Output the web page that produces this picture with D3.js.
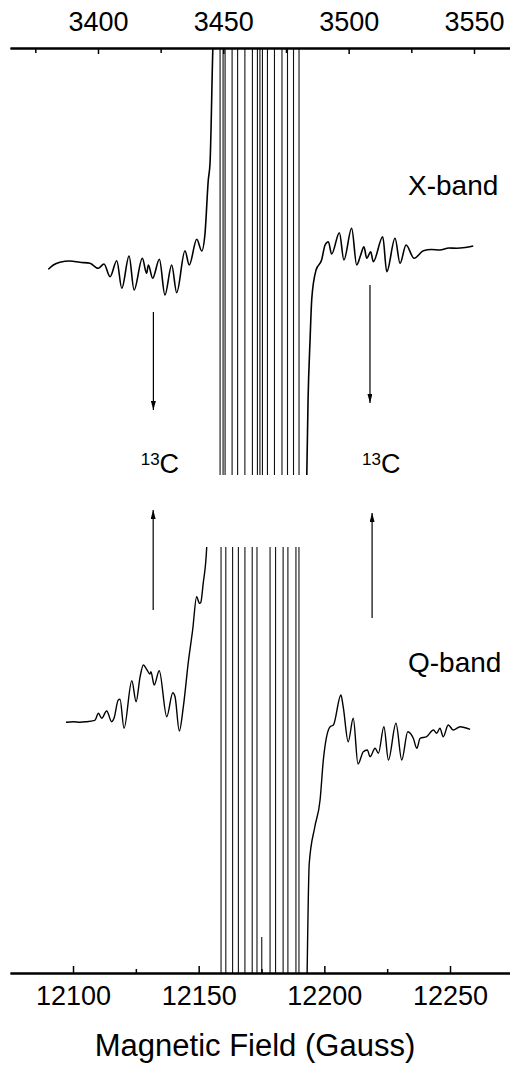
<!DOCTYPE html>
<html><head><meta charset="utf-8">
<script src="https://cdn.jsdelivr.net/npm/d3@7"></script>
<style>
body{margin:0;background:#fff}
svg{display:block}
text{font-family:"Liberation Sans",Arial,Helvetica,sans-serif;fill:#000}
</style>
</head><body>
<svg id="c" width="510" height="1067"></svg>
<script>
// ---------- tick values ----------
const topMajorTicks = [3400, 3450, 3500, 3550];
const topMinorTicks = [3375, 3425, 3475, 3525];
const bottomMajorTicks = [12100, 12150, 12200, 12250];
const bottomMinorTicks = [12125, 12175, 12225];

// ---------- X-band spectrum (field G, amplitude a.u.) ----------
const xLeftWing = [
  [3380.2,-4.3],[3382.2,0],[3384.8,2.7],[3388.8,4],[3392.8,2.7],[3396.8,1.7],
  [3400.1,-3.3],[3402.4,1],[3404.8,-11.7],[3407.5,4.3],[3409.5,-23.3],[3412.4,9],
  [3414.4,-25],[3417.7,6.7],[3419.4,-8.3],[3420.1,0],[3421.8,-13.3],[3424.5,5.7],
  [3426.7,-30],[3429.4,0],[3431.4,-27.7],[3434.7,14.3],[3436.4,0],[3439.4,25.7],
  [3441.4,14],[3442.7,31.7],[3444.0,85],[3444.7,102],[3445.8,215],[3446.1,240]
];
// clipped central hyperfine lines of the X-band spectrum (field G)
const xCentralLines = [3448.7,3449.9,3450.7,3453.5,3455.7,3458.6,3461.6,3463.6,
  3464.6,3465.6,3467.6,3470.4,3473.4,3475.6,3478.0,3480.2];
const xRightWing = [
  [3483.1,-240],[3483.8,-135],[3484.6,-75],[3485.3,-33.3],[3487.0,-5],[3489.2,5],
  [3490.6,20],[3491.9,23.3],[3493.2,11],[3496.3,32.3],[3498.1,5],[3501.2,36.7],
  [3503.2,0],[3504.8,10],[3506.1,18.3],[3507.2,6.7],[3508.8,13.3],[3509.8,3.3],
  [3513.6,28.3],[3515.2,-6.7],[3518.5,26.7],[3520.5,1.7],[3522.9,20],[3526.1,6.7],
  [3529.8,14.3],[3533.0,15.5],[3536.4,15],[3540.0,17],[3543.1,16.7],[3546.5,17.5],[3549.7,19]
];

// ---------- Q-band spectrum (field G, amplitude a.u.) ----------
const qLeftWing = [
  [12097.2,-0.3],[12100.1,0.3],[12102.8,-0.3],[12105.5,0.3],[12108.1,1.3],[12108.8,2],
  [12110.1,8.7],[12111.4,3.7],[12113.4,11],[12115.4,0.3],[12116.3,3.7],[12118.0,22],
  [12118.7,22.7],[12120.3,-6.3],[12123.4,41.3],[12125.1,20.3],[12126.7,45.3],[12128.0,57],
  [12129.3,52.7],[12130.6,48],[12131.0,50.3],[12132.3,37],[12134.3,51.3],[12137.3,5.3],
  [12139.7,29.3],[12140.6,25.3],[12142.3,-9],[12143.9,15.3],[12145.9,60.3],[12147.6,92],
  [12149.2,125.3],[12150.3,118.7],[12150.8,119.3],[12151.8,138.7],[12153.2,175],[12153.5,200]
];
const qCentralLines = [12158.9,12160.8,12163.5,12165.8,12168.4,12171.3,12173.2,
  12178.4,12180.6,12183.6,12185.5,12188.7,12189.9];
const qShortSpike = [12175.1, -215];
const qRightWing = [
  [12193.0,-280],[12194.0,-141.3],[12196.2,-105],[12198.3,-78],[12199.6,-38],[12202.3,-4.7],
  [12203.6,-3],[12206.6,27],[12207.5,15.3],[12209.5,-19.7],[12211.5,3.7],[12213.4,-42],
  [12215.5,-29.7],[12217.1,-28],[12218.2,-34.7],[12220.2,-26.3],[12221.5,-31.3],[12223.7,-4.7],
  [12225.5,-38],[12228.5,-1.3],[12230.8,-38],[12233.2,-9.7],[12235.4,-16.3],[12236.8,-26.3],
  [12238.1,-16.3],[12240.7,-14.7],[12243.4,-8],[12244.7,-11.3],[12246.0,-6.3],[12247.3,-14.7],
  [12249.3,-3],[12251.3,-8],[12254.0,-4.7],[12258.0,-7.3]
];

// 13C annotation positions (X-band field) and arrows (field, amp from, amp to)
const c13Labels = [3424.7, 3513.0];
const xArrows = [[3422.1,-47,-145],[3508.5,-20,-138]];
const qArrows = [[12131.9,112,212],[12219.0,104,209]];

// ---------- layout ----------
const svg = d3.select("#c");
const W = 510;
const xTop = d3.scaleLinear().domain([3364.9, 3564.36]).range([10, W]);
const xBot = d3.scaleLinear().domain([12074.93, 12273.87]).range([10, W]);
const yX = d3.scaleLinear().domain([-210, 217]).range([475, 48]);
const yQ = d3.scaleLinear().domain([-251, 175]).range([973, 547]);

const defs = svg.append("defs");
defs.append("clipPath").attr("id","clipX").append("rect")
  .attr("x",0).attr("y",yX.range()[1]).attr("width",W).attr("height",yX.range()[0]-yX.range()[1]);
defs.append("clipPath").attr("id","clipQ").append("rect")
  .attr("x",0).attr("y",yQ.range()[1]).attr("width",W).attr("height",yQ.range()[0]-yQ.range()[1]);
defs.append("marker").attr("id","ah").attr("viewBox","0 0 10 10").attr("refX",10).attr("refY",5)
  .attr("markerWidth",9).attr("markerHeight",5).attr("markerUnits","userSpaceOnUse")
  .attr("orient","auto").attr("preserveAspectRatio","none")
  .append("path").attr("d","M0,0L10,5L0,10Z").attr("fill","#000");

// ---------- X-band ----------
const gX = svg.append("g").attr("clip-path","url(#clipX)");
const lineX = d3.line().x(d=>xTop(d[0])).y(d=>yX(d[1])).curve(d3.curveMonotoneX);
[xLeftWing, xRightWing].forEach(w=>{
  gX.append("path").attr("d",lineX(w)).attr("fill","none").attr("stroke","#000")
    .attr("stroke-width",1.6).attr("stroke-linejoin","round");
});
gX.selectAll("line.c").data(xCentralLines).join("line")
  .attr("x1",d=>xTop(d)).attr("x2",d=>xTop(d))
  .attr("y1",yX(yX.domain()[1])).attr("y2",yX(yX.domain()[0]))
  .attr("stroke","#111").attr("stroke-width",1.1);

// ---------- Q-band ----------
const gQ = svg.append("g").attr("clip-path","url(#clipQ)");
const lineQ = d3.line().x(d=>xBot(d[0])).y(d=>yQ(d[1])).curve(d3.curveMonotoneX);
[qLeftWing, qRightWing].forEach(w=>{
  gQ.append("path").attr("d",lineQ(w)).attr("fill","none").attr("stroke","#000")
    .attr("stroke-width",1.4).attr("stroke-linejoin","round");
});
gQ.selectAll("line.c").data(qCentralLines).join("line")
  .attr("x1",d=>xBot(d)).attr("x2",d=>xBot(d))
  .attr("y1",yQ(yQ.domain()[1])).attr("y2",yQ(yQ.domain()[0]))
  .attr("stroke","#111").attr("stroke-width",1.1);
gQ.append("line").attr("x1",xBot(qShortSpike[0])).attr("x2",xBot(qShortSpike[0]))
  .attr("y1",yQ(qShortSpike[1])).attr("y2",yQ(yQ.domain()[0]))
  .attr("stroke","#111").attr("stroke-width",1.1);

// ---------- arrows ----------
xArrows.forEach(a=>{
  svg.append("line").attr("x1",xTop(a[0])).attr("x2",xTop(a[0]))
    .attr("y1",yX(a[1])).attr("y2",yX(a[2])).attr("stroke","#000").attr("stroke-width",1.2)
    .attr("marker-end","url(#ah)");
});
qArrows.forEach(a=>{
  svg.append("line").attr("x1",xBot(a[0])).attr("x2",xBot(a[0]))
    .attr("y1",yQ(a[1])).attr("y2",yQ(a[2])).attr("stroke","#000").attr("stroke-width",1.2)
    .attr("marker-end","url(#ah)");
});

// ---------- labels ----------
c13Labels.forEach(f=>{
  const t = svg.append("text").attr("x",xTop(f)).attr("y",473).attr("text-anchor","middle");
  t.append("tspan").attr("font-size",17).attr("dy",-8).text("13");
  t.append("tspan").attr("font-size",27).attr("dy",8).text("C");
});
svg.append("text").attr("x",408).attr("y",195).attr("font-size",28).text("X-band");
svg.append("text").attr("x",408).attr("y",672).attr("font-size",28).text("Q-band");

// ---------- axes ----------
function styleAxis(g){
  g.select(".domain").attr("stroke","#000").attr("stroke-width",2);
  g.selectAll(".tick line").attr("stroke","#000").attr("stroke-width",1.5);
  g.selectAll(".tick text").attr("font-size",27).attr("fill","#000")
    .attr("font-family",'"Liberation Sans",Arial,Helvetica,sans-serif');
}
const gTop = svg.append("g").attr("transform","translate(0,48)")
  .call(d3.axisTop(xTop).tickValues(topMajorTicks).tickSize(-6).tickSizeOuter(0).tickPadding(17).tickFormat(d3.format("d")));
styleAxis(gTop);
const gTopMinor = svg.append("g").attr("transform","translate(0,48)")
  .call(d3.axisTop(xTop).tickValues(topMinorTicks).tickSize(-5).tickSizeOuter(0).tickFormat(""));
styleAxis(gTopMinor);

const gBot = svg.append("g").attr("transform","translate(0,973)")
  .call(d3.axisBottom(xBot).tickValues(bottomMajorTicks).tickSize(-7).tickSizeOuter(0).tickPadding(13).tickFormat(d3.format("d")));
styleAxis(gBot);
const gBotMinor = svg.append("g").attr("transform","translate(0,973)")
  .call(d3.axisBottom(xBot).tickValues(bottomMinorTicks).tickSize(-4).tickSizeOuter(0).tickFormat(""));
styleAxis(gBotMinor);

svg.append("text").attr("x",255).attr("y",1056).attr("text-anchor","middle")
  .attr("font-size",31).text("Magnetic Field (Gauss)");
</script>
</body></html>
